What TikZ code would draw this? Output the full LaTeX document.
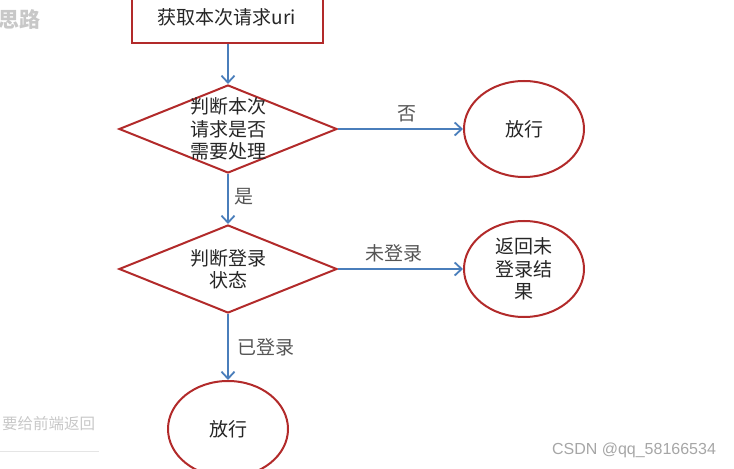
\documentclass[tikz,border=0pt]{standalone}
\usepackage{fontspec}
\newfontfamily\cjk{Noto Sans CJK SC}
\newfontfamily\wmfont{Liberation Sans}
\usepackage{tikz}
\usetikzlibrary{positioning,arrows.meta,shapes.geometric}

\definecolor{boxred}{RGB}{178,42,42}
\definecolor{lineblue}{RGB}{74,126,187}
\definecolor{txtdark}{RGB}{38,38,38}
\definecolor{lblgray}{RGB}{85,85,85}
\definecolor{bggray}{RGB}{200,200,200}

\begin{document}
\begin{tikzpicture}[
  x=1bp,y=1bp,
  font=\cjk\fontsize{19bp}{22.5bp}\selectfont,
  startbox/.style={rectangle,draw=boxred,line width=2bp,minimum width=191bp,minimum height=52bp,text=txtdark},
  dec/.style={diamond,draw=boxred,line width=2bp,minimum width=218bp,minimum height=88bp,inner sep=0pt},
  dectxt/.style={align=center,text=txtdark},
  endell/.style={ellipse,draw=boxred,line width=2bp,minimum width=120bp,minimum height=96bp,inner sep=0pt,align=center,text=txtdark},
  arr/.style={-{Straight Barb[length=7bp,width=13bp]},draw=lineblue,line width=1.8bp},
  lbl/.style={text=lblgray,inner sep=1bp}]
\useasboundingbox (0,0) rectangle (734,-469);
\begin{scope}
\clip (0,0) rectangle (734,-469);
% background remains
\node[anchor=east,text=bggray,inner sep=0pt,font=\cjk\bfseries\fontsize{21bp}{24bp}\selectfont] (bgtitle) at (41,-19) {思路};
\node[anchor=west,text=bggray,inner sep=0pt,font=\cjk\fontsize{15.5bp}{18bp}\selectfont] (bgtext) at (2,-424) {要给前端返回};
\draw[gray!20,line width=0.8bp] (0,-451) -- (99,-451);
\node[text=gray!70,inner sep=0pt,font=\wmfont\fontsize{16bp}{19bp}\selectfont] (wm) at (634,-450) {CSDN @qq\_58166534};

% flow
\node[startbox] (uri) at (227,-17) {获取本次请求uri};
\node[dec] (ask) at (228,-129) {};
\node[dectxt] (asktxt) at (ask) {判断本次\\请求是否\\需要处理};
\node[endell,right=125bp of ask] (pass) {放行};
\node[dec,below=50bp of ask] (login) {};
\node[dectxt] (logintxt) at (login) {判断登录\\状态};
\node[endell,right=125bp of login] (back) {返回未\\登录结\\果};
\node[endell,below=66bp of login] (passok) {放行};

\draw[arr] (uri.south -| ask.north) -- (ask.north);
\draw[arr] (ask.east) -- node[lbl,above=5bp,pos=0.55] {否} (pass.west);
\draw[arr] (ask.south) -- node[lbl,right=5bp,pos=0.45] {是} (login.north);
\draw[arr] (login.east) -- node[lbl,above=5bp,pos=0.45] {未登录} (back.west);
\draw[arr] (login.south) -- node[lbl,right=8bp,pos=0.5] {已登录} (passok.north);
\end{scope}
\end{tikzpicture}
\end{document}
